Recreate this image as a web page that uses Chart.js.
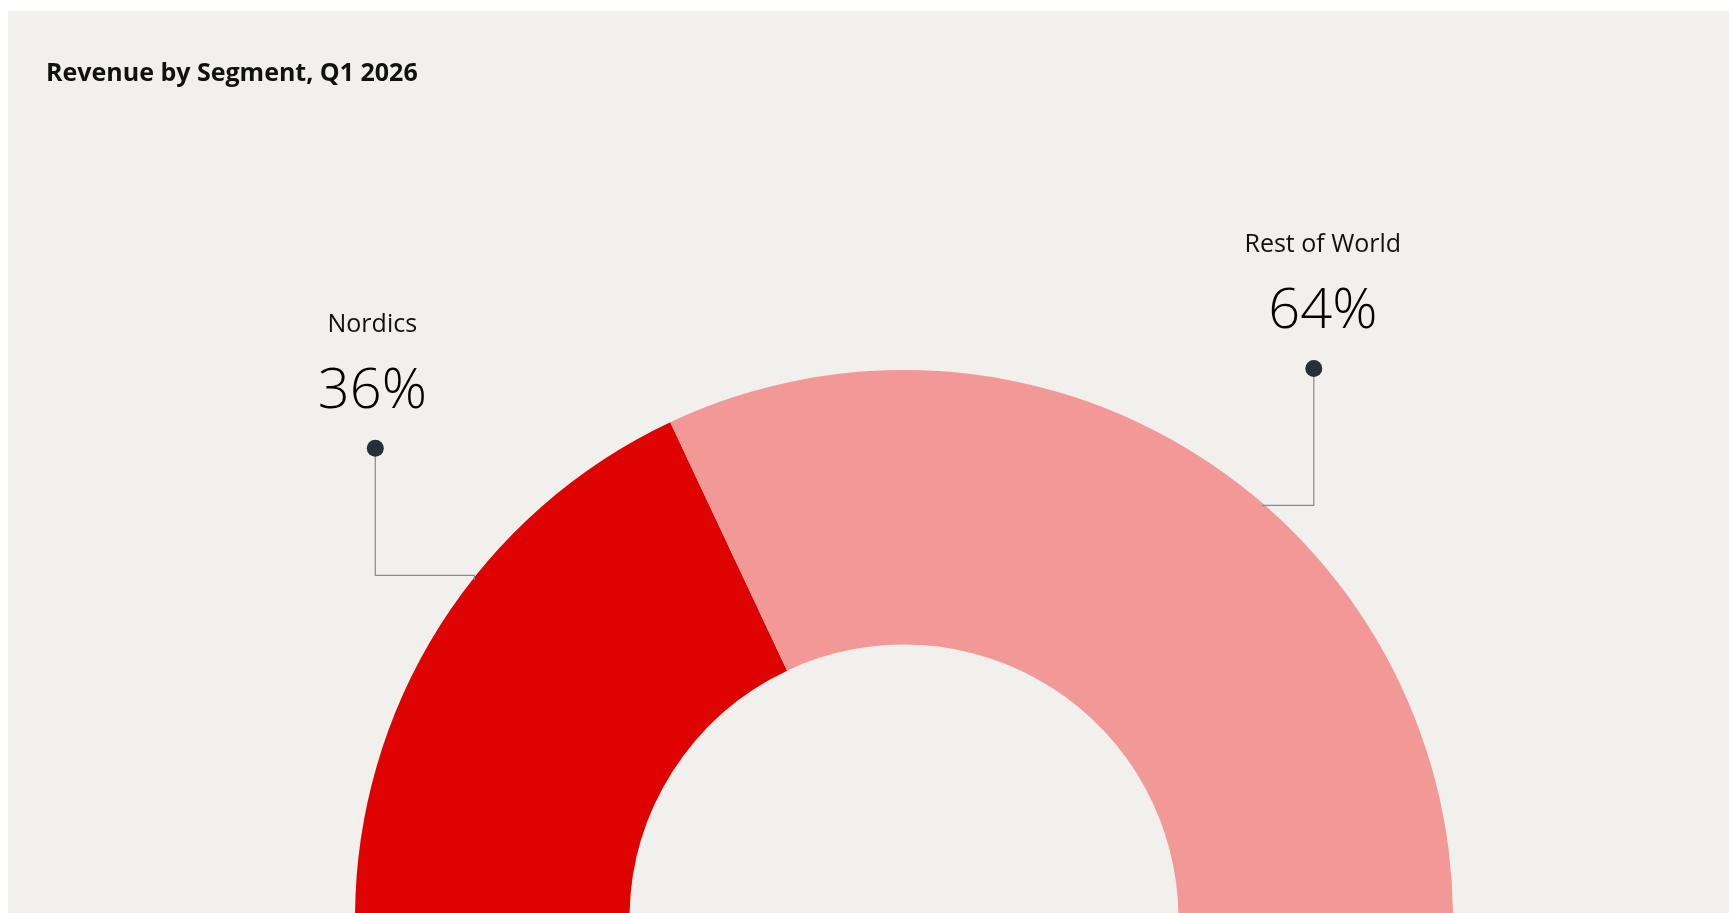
<!DOCTYPE html>
<html lang="en">
<head>
  <meta charset="UTF-8">
  <title>Revenue by Segment, Q1 2026</title>
  <style>
    html, body{
      margin: 0;
      padding: 0;
      background: #ffffff;
      overflow: hidden;
    }
    .panel{
      position: absolute;
      left: 8px;
      top: 11px;
      width: 1754px;
      height: 902px;
      background: #f1f0ec;
    }
  </style>
</head>
<body>
  <div class="panel">
    <canvas id="myChart" width="1754" height="902"></canvas>
  </div>

  <script src="https://cdn.jsdelivr.net/npm/chart.js"></script>
  <script>
  const segments = ['Nordics', 'Rest of World']
  const shares = [36, 64]
  const segmentColors = ['#de0300', '#f29997']

  // where each callout sits relative to its slice (layout only)
  const callouts = [
    {frac: 0.594, dx: -99, dy: -129, elbow: -2, textDx: -3},
    {frac: 0.573, dx: 51, dy: -135, elbow: 2, textDx: 9}
  ]

  const calloutPlugin = {
    id: 'callouts',
    afterDatasetsDraw: (chart) => {
      const ctx = chart.ctx
      const arcs = chart.getDatasetMeta(0).data
      const total = shares.reduce((a, b) => a + b, 0)
      arcs.forEach((arc, i) => {
        const c = callouts[i]
        const p = arc.getProps(['x', 'y', 'startAngle', 'endAngle', 'outerRadius'], true)
        const a = p.startAngle + (p.endAngle - p.startAngle) * c.frac
        const ax = p.x + p.outerRadius * Math.cos(a)
        const ay = p.y + p.outerRadius * Math.sin(a)
        const dotX = ax + c.dx
        const dotY = ay + c.dy
        const elbowY = ay + c.elbow
        ctx.save()
        ctx.strokeStyle = '#8a8a8a'
        ctx.lineWidth = 1.2
        ctx.beginPath()
        ctx.moveTo(ax, ay + 3)
        ctx.lineTo(ax, elbowY)
        ctx.lineTo(dotX, elbowY)
        ctx.lineTo(dotX, dotY)
        ctx.stroke()
        ctx.fillStyle = '#263038'
        ctx.beginPath()
        ctx.arc(dotX, dotY, 8.5, 0, Math.PI * 2)
        ctx.fill()
        ctx.textAlign = 'center'
        ctx.textBaseline = 'alphabetic'
        ctx.fillStyle = '#111111'
        ctx.font = '400 25px "Open Sans"'
        ctx.fillText(segments[i], dotX + c.textDx, dotY - 116)
        ctx.fillStyle = '#000000'
        ctx.font = '300 56px "Open Sans"'
        ctx.fillText(Math.round(shares[i] / total * 100) + '%', dotX + c.textDx, dotY - 40)
        ctx.restore()
      })
    }
  }

  let myChart = new Chart(document.getElementById('myChart'), {
    type: 'doughnut',
    data: {
      labels: segments,
      datasets: [{
        data: shares,
        backgroundColor: segmentColors,
        borderWidth: 0,
        hoverOffset: 0
      }]
    },
    options: {
      responsive: false,
      animation: false,
      rotation: -90,
      circumference: 180,
      cutout: '50%',
      radius: 549,
      layout: {
        padding: {left: 38, right: 0, top: 0, bottom: 0}
      },
      plugins: {
        legend: {display: false},
        tooltip: {enabled: false},
        title: {
          display: true,
          text: 'Revenue by Segment, Q1 2026',
          align: 'start',
          color: '#111111',
          font: {family: '"Open Sans"', size: 25, weight: 'bold'},
          padding: {top: 48, bottom: 287}
        }
      }
    },
    plugins: [calloutPlugin]
  })
  </script>
</body>
</html>
